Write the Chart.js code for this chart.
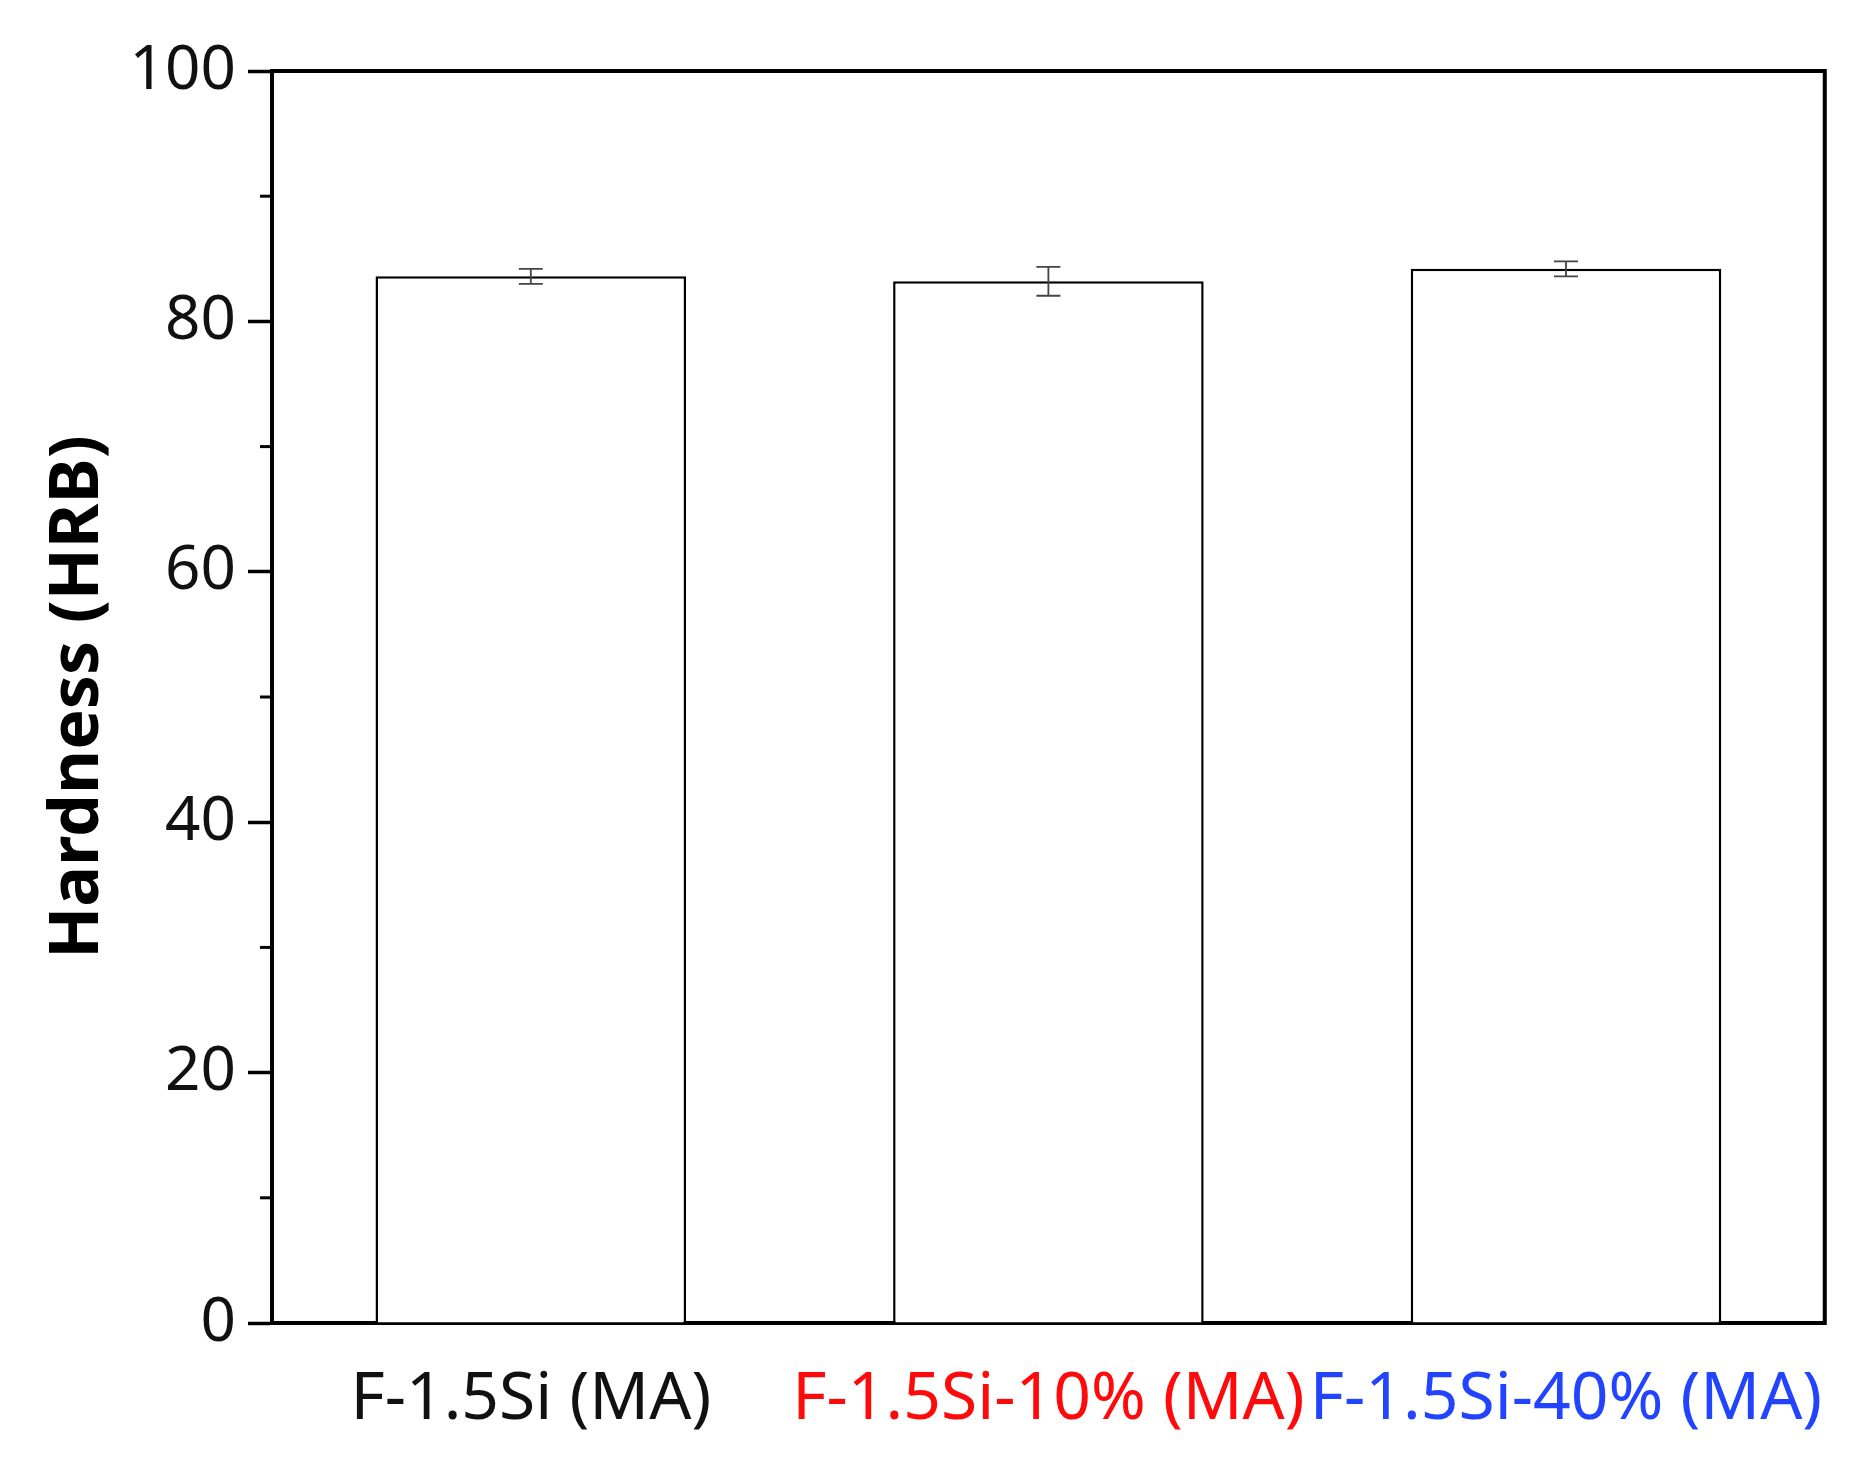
<!DOCTYPE html>
<html>
<head>
<meta charset="utf-8">
<script src="https://cdn.jsdelivr.net/npm/chart.js@4"></script>
<style>
  html, body { margin: 0; padding: 0; background: #fff; }
  #wrap { width: 1866px; height: 1484px; }
</style>
</head>
<body>
<div id="wrap"><canvas id="hardness" width="1866" height="1484"></canvas></div>
<script>
const samples = ["F-1.5Si (MA)", "F-1.5Si-10% (MA)", "F-1.5Si-40% (MA)"];
const hardness = [83.6, 83.2, 84.2];
const hardnessErr = [0.6, 1.15, 0.6];
const labelColors = ["#111111", "#ff0a0a", "#2244ff"];
const yTicks = [0, 20, 40, 60, 80, 100];

// error bars + minor ticks + top/right frame
const extrasPlugin = {
  id: "extras",
  afterDatasetsDraw(chart) {
    const ctx = chart.ctx;
    const y = chart.scales.y;
    const meta = chart.getDatasetMeta(0);
    ctx.save();
    ctx.strokeStyle = "#444";
    ctx.lineWidth = 1.8;
    meta.data.forEach((bar, i) => {
      const hi = y.getPixelForValue(hardness[i] + hardnessErr[i]);
      const lo = y.getPixelForValue(hardness[i] - hardnessErr[i]);
      ctx.beginPath();
      ctx.moveTo(bar.x, hi); ctx.lineTo(bar.x, lo);
      ctx.moveTo(bar.x - 12, hi); ctx.lineTo(bar.x + 12, hi);
      ctx.moveTo(bar.x - 12, lo); ctx.lineTo(bar.x + 12, lo);
      ctx.stroke();
    });
    ctx.restore();
  },
  afterDraw(chart) {
    const ctx = chart.ctx;
    const a = chart.chartArea;
    const y = chart.scales.y;
    ctx.save();
    ctx.strokeStyle = "#000";
    ctx.lineWidth = 4;
    ctx.beginPath();
    ctx.moveTo(a.left - 2, a.top); ctx.lineTo(a.right, a.top); ctx.lineTo(a.right, a.bottom + 2);
    ctx.stroke();
    // minor ticks
    ctx.lineWidth = 3;
    for (let k = 0; k < yTicks.length - 1; k++) {
      const v = (yTicks[k] + yTicks[k + 1]) / 2;
      const py = y.getPixelForValue(v);
      ctx.beginPath();
      ctx.moveTo(a.left, py); ctx.lineTo(a.left - 12, py);
      ctx.stroke();
    }
    ctx.restore();
  }
};

new Chart(document.getElementById("hardness").getContext("2d"), {
  type: "bar",
  data: {
    labels: samples,
    datasets: [{
      data: hardness,
      backgroundColor: "#ffffff",
      borderColor: "#000000",
      borderWidth: 2.5,
      categoryPercentage: 1.0,
      barPercentage: 0.6
    }]
  },
  options: {
    responsive: false,
    animation: false,
    layout: { padding: { top: 71, right: 35, bottom: 0, left: 0 } },
    plugins: { legend: { display: false }, tooltip: { enabled: false } },
    scales: {
      x: {
        grid: { display: false, drawTicks: false },
        border: { color: "#000", width: 4 },
        ticks: {
          padding: 38,
          autoSkip: false,
          maxRotation: 0,
          minRotation: 0,
          font: { family: "Noto Sans", size: 66 },
          color: (c) => labelColors[c.index]
        },
        afterFit: (s) => { s.height = 161; }
      },
      y: {
        min: 0,
        max: 100,
        afterBuildTicks: (s) => { s.ticks = yTicks.map(v => ({ value: v })); },
        grid: { drawOnChartArea: false, tickLength: 24, tickWidth: 3.5, tickColor: "#000" },
        border: { color: "#000", width: 4 },
        ticks: {
          padding: 12,
          font: { family: "Noto Sans", size: 62 },
          color: "#111"
        },
        title: {
          display: true,
          text: "Hardness (HRB)",
          color: "#000",
          font: { family: "Noto Sans", size: 68, weight: "bold" },
          padding: { top: 38, bottom: 0 }
        },
        afterFit: (s) => { s.width = 272; }
      }
    }
  },
  plugins: [extrasPlugin]
});
</script>
</body>
</html>
